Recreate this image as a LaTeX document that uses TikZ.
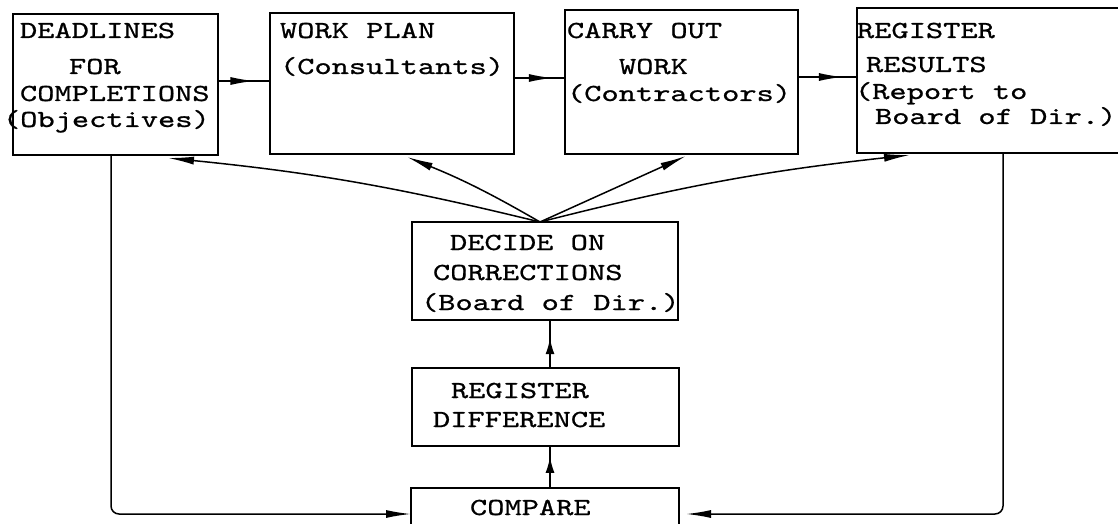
\documentclass[tikz,border=0pt]{standalone}
\usepackage{fontspec}
\newfontfamily\typewriter{lmmono10-regular.otf}[FakeStretch=1.34,FakeBold=0.8]
\usetikzlibrary{arrows.meta,decorations.markings,calc}
% zero-width rule that fixes the height of a text block's first row
\newcommand\firstrow{\rule{0pt}{20pt}}
\begin{document}
\begin{tikzpicture}[x=1pt,y=1pt,
  box/.style={draw, line width=1.6pt, inner sep=0pt, outer sep=0pt},
  txt/.style={anchor=north west, inner sep=0pt, outer sep=0pt, align=left,
    font=\typewriter\fontsize{24.5}{27}\selectfont},
  wire/.style={line width=1.5pt},
  fantip/.style={-{Latex[length=26pt,width=8pt]}},
  endtip/.style={-{Latex[length=25pt,width=8pt]}},
  midtip/.style={postaction={decorate}, decoration={markings,
    mark=at position #1 with {\arrow{Latex[length=24pt,width=8pt]}}}},
  uptip/.style={postaction={decorate}, decoration={markings,
    mark=at position #1 with {\arrow{Latex[length=16pt,width=9pt]}}}},
]
\fill[white] (0,0) rectangle (1118,-524);
\useasboundingbox (0,0) rectangle (1118,-524);

% process boxes
\node[box, minimum width=205pt, minimum height=141pt] (b1) at (115.5,-84.5) {};
\node[box, minimum width=244pt, minimum height=141pt] (b2) at (392,-83.5) {};
\node[box, minimum width=233pt, minimum height=144pt] (b3) at (681.5,-82) {};
\node[box, minimum width=268pt, minimum height=145pt] (b4) at (991,-80.5) {};
\node[box, minimum width=266pt, minimum height=98pt] (dc) at (545,-271) {};
\node[box, minimum width=267pt, minimum height=78pt] (rd) at (545.5,-407) {};
\node[box, minimum width=268pt, minimum height=52pt] (cm) at (545,-514) {};

% box texts
\node[txt] (t1) at (3,-18) {\firstrow\hspace*{17pt}DEADLINES\\[9pt]\hspace*{66pt}FOR\\\hspace*{17pt}COMPLETIONS\\[-1pt](Objectives)};
\node[txt] (t2) at (280,-18) {\firstrow WORK PLAN\\[9pt](Consultants)};
\node[txt] (t3) at (567,-18) {\firstrow CARRY OUT\\[9pt]\hspace*{52pt}WORK\\(Contractors)};
\node[txt] (t4) at (855,-18) {\firstrow\hspace*{2pt}REGISTER\\[7pt]\hspace*{11pt}RESULTS\\(Report to\\[-2pt]\hspace*{20pt}Board of Dir.)};
\node[txt] (t5) at (421,-230) {\firstrow\hspace*{29pt}DECIDE ON\\[3pt]\hspace*{12pt}CORRECTIONS\\[3pt](Board of Dir.)};
\node[txt] (t6) at (433,-378) {\firstrow\hspace*{18pt}REGISTER\\[2pt]DIFFERENCE};
\node[txt] (t7) at (470,-495) {\firstrow COMPARE};

% main sequence
\draw[wire, midtip=0.70] ([yshift=3.5pt]b1.east) -- ([yshift=3.5pt]b1.east -| b2.west);
\draw[wire, midtip=0.76] ([yshift=5.5pt]b2.east) -- ([yshift=5.5pt]b2.east -| b3.west);
\draw[wire, midtip=0.76] ([yshift=5pt]b3.east) -- ([yshift=5pt]b3.east -| b4.west);

% corrections fan back to every step
\coordinate (fan) at ([xshift=-5pt]dc.north);
\draw[wire, fantip] (fan) to[bend right=4] ([xshift=52.5pt,yshift=-3pt]b1.south);
\draw[wire, fantip] (fan) to[bend right=4] ([xshift=15pt,yshift=-3pt]b2.south);
\draw[wire, fantip] (fan) -- ([xshift=4.5pt,yshift=-2pt]b3.south);
\draw[wire, fantip] (fan) to[bend left=4] ([xshift=-81pt,yshift=-2pt]b4.south);

% control loop
\draw[wire, uptip=0.62] ([xshift=4.5pt]rd.north) -- ([xshift=4.5pt]rd.north |- dc.south);
\draw[wire, uptip=0.74] ([xshift=5pt]cm.north) -- ([xshift=5pt]cm.north |- rd.south);
\draw[wire, endtip, rounded corners=8pt] ([xshift=-4.5pt]b1.south) |- (cm.west);
\draw[wire, endtip, rounded corners=8pt, shorten >=7pt] ([xshift=12pt]b4.south) |- (cm.east);
\end{tikzpicture}
\end{document}
